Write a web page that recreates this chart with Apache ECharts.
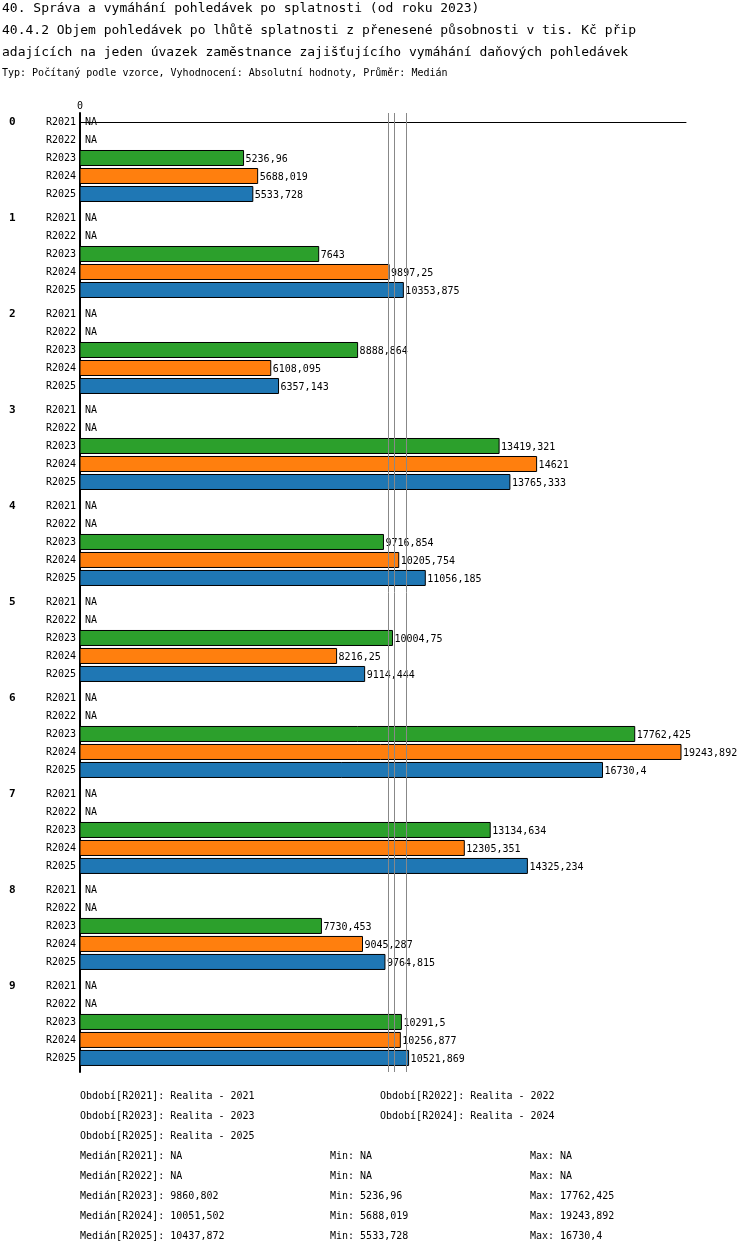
<!DOCTYPE html>
<html lang="cs">
<head>
<meta charset="utf-8">
<title>Objem pohledávek</title>
<script src="https://cdn.jsdelivr.net/npm/echarts@6/dist/echarts.min.js"></script>
<style>body{margin:0;background:#fff}#main{width:750px;height:1254px}</style>
</head>
<body>
<div id="main"></div>
<script>
var groups = ['0','1','2','3','4','5','6','7','8','9'];
var periods = ['R2021','R2022','R2023','R2024','R2025'];
var r2023 = [5236.96, 7643, 8888.864, 13419.321, 9716.854, 10004.75, 17762.425, 13134.634, 7730.453, 10291.5];
var r2024 = [5688.019, 9897.25, 6108.095, 14621, 10205.754, 8216.25, 19243.892, 12305.351, 9045.287, 10256.877];
var r2025 = [5533.728, 10353.875, 6357.143, 13765.333, 11056.185, 9114.444, 16730.4, 14325.234, 9764.815, 10521.869];
var medians = [9860.802, 10051.502, 10437.872];
var colors = ['#2ca02c', '#ff7f0e', '#1f77b4'];

var font = 'DejaVu Sans Mono';
var groupStep = 96 / 18; // group spacing in row units
function rowPos(g, r) { return g * groupStep + r; }
function fmt(v) { return String(v).replace('.', ','); }

function renderBar(params, api) {
    var v = api.value(0), y = api.value(1);
    var a = api.coord([0, y]), b = api.coord([v, y]);
    return {
        type: 'group',
        children: [
            { type: 'rect', shape: { x: a[0], y: a[1] - 7.5, width: b[0] - a[0], height: 15 },
              style: { fill: colors[api.value(2)], stroke: '#000', lineWidth: 1 } },
            { type: 'text', x: b[0] + 2, y: b[1] + 1,
              style: { text: fmt(v), font: '10px "' + font + '"', fill: '#000', textVerticalAlign: 'middle' } }
        ]
    };
}

var series = [];
[r2023, r2024, r2025].forEach(function (vals, k) {
    series.push({
        type: 'custom',
        renderItem: renderBar,
        encode: { x: 0, y: 1 },
        data: vals.map(function (v, g) { return [v, rowPos(g, k + 2), k]; }),
        markLine: k === 0 ? {
            silent: true, symbol: 'none', label: { show: false },
            lineStyle: { color: '#888', width: 1, type: 'solid' },
            data: medians.map(function (m) { return { xAxis: m }; })
        } : undefined
    });
});

var graphics = [];
var titles = [
    ['40. Správa a vymáhání pohledávek po splatnosti (od roku 2023)', 9, 13],
    ['40.4.2 Objem pohledávek po lhůtě splatnosti z přenesené působnosti v tis. Kč přip', 31, 13],
    ['adajících na jeden úvazek zaměstnance zajišťujícího vymáhání daňových pohledávek', 53, 13],
    ['Typ: Počítaný podle vzorce, Vyhodnocení: Absolutní hodnoty, Průměr: Medián', 73, 10]
];
titles.forEach(function (t) {
    graphics.push({ type: 'text', x: 2, y: t[1],
        style: { text: t[0], font: t[2] + 'px "' + font + '"', fill: '#000', textVerticalAlign: 'middle' } });
});
var rowTop = 122, rowH = 18;
groups.forEach(function (g, gi) {
    var y0 = rowTop + rowPos(gi, 0) * rowH;
    graphics.push({ type: 'text', x: 9, y: y0, style: { text: g, font: 'bold 11px "' + font + '"', fill: '#000', textVerticalAlign: 'middle' } });
    periods.forEach(function (p, r) {
        var y = rowTop + rowPos(gi, r) * rowH;
        graphics.push({ type: 'text', x: 76, y: y, style: { text: p, font: '10px "' + font + '"', fill: '#000', textAlign: 'right', textVerticalAlign: 'middle' } });
        if (r < 2) graphics.push({ type: 'text', x: 85, y: y, style: { text: 'NA', font: '10px "' + font + '"', fill: '#000', textVerticalAlign: 'middle' } });
    });
});
var foot = [
    ['Období[R2021]: Realita - 2021', 80, 1096], ['Období[R2022]: Realita - 2022', 380, 1096],
    ['Období[R2023]: Realita - 2023', 80, 1116], ['Období[R2024]: Realita - 2024', 380, 1116],
    ['Období[R2025]: Realita - 2025', 80, 1136],
    ['Medián[R2021]: NA', 80, 1156], ['Min: NA', 330, 1156], ['Max: NA', 530, 1156],
    ['Medián[R2022]: NA', 80, 1176], ['Min: NA', 330, 1176], ['Max: NA', 530, 1176],
    ['Medián[R2023]: ' + fmt(medians[0]), 80, 1196], ['Min: 5236,96', 330, 1196], ['Max: 17762,425', 530, 1196],
    ['Medián[R2024]: ' + fmt(medians[1]), 80, 1216], ['Min: 5688,019', 330, 1216], ['Max: 19243,892', 530, 1216],
    ['Medián[R2025]: ' + fmt(medians[2]), 80, 1236], ['Min: 5533,728', 330, 1236], ['Max: 16730,4', 530, 1236]
];
foot.forEach(function (f) {
    graphics.push({ type: 'text', x: f[1], y: f[2], style: { text: f[0], font: '10px "' + font + '"', fill: '#000', textVerticalAlign: 'middle' } });
});

var chart = echarts.init(document.getElementById('main'));
chart.setOption({
    animation: false,
    grid: { left: 80, top: 113, width: 606, height: 959 },
    xAxis: {
        type: 'value', position: 'top', min: 0, max: 19404, interval: 50000,
        axisLine: { show: true, lineStyle: { color: '#000', width: 1 } },
        axisTick: { show: true, length: 3, lineStyle: { color: '#000' } },
        axisLabel: { color: '#000', fontFamily: font, fontSize: 10, margin: 2, showMaxLabel: false },
        splitLine: { show: false }
    },
    yAxis: {
        type: 'value', inverse: true, min: -0.5, max: 52.78,
        axisLine: { show: true, onZero: false, lineStyle: { color: '#000', width: 2 } },
        axisTick: { show: false }, axisLabel: { show: false }, splitLine: { show: false }
    },
    series: series,
    graphic: graphics
});
</script>
</body>
</html>
